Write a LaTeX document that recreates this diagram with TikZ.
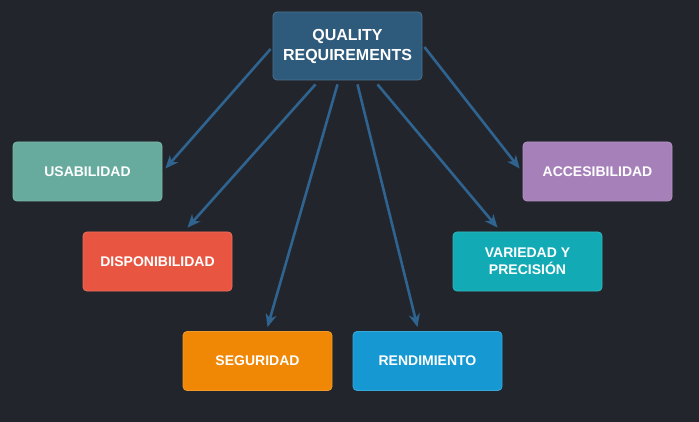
\documentclass[tikz,border=0pt]{standalone}
\usepackage{fontspec}
\setmainfont{Liberation Sans}
\usetikzlibrary{arrows.meta,calc}
\definecolor{bg}{HTML}{22262C}
\definecolor{topc}{HTML}{2E5A7C}
\definecolor{arr}{HTML}{2F6390}
\definecolor{usac}{HTML}{67AB9F}
\definecolor{disc}{HTML}{E85642}
\definecolor{segc}{HTML}{F08705}
\definecolor{renc}{HTML}{1699D3}
\definecolor{varc}{HTML}{12AAB5}
\definecolor{accc}{HTML}{A680B8}
\begin{document}
\begin{tikzpicture}[x=1pt,y=-1pt,
  box/.style={rounded corners=4pt,minimum width=149pt,minimum height=59pt,inner sep=0pt,
    text=white,font=\bfseries\fontsize{14}{17}\selectfont,align=center,draw=#1!85!white,fill=#1,line width=0.8pt},
  conn/.style={draw=arr,line width=2.6pt,-{Stealth[length=13pt,width=11pt,inset=4pt]}}]
\fill[bg] (0,0) rectangle (699,422);
\useasboundingbox (0,0) rectangle (699,422);
\node[box=topc,minimum height=68pt,font=\bfseries\fontsize{16}{20}\selectfont] (top) at (347.5,46) {QUALITY\\REQUIREMENTS};
\node[box=usac] (usa) at (87.5,171.5) {USABILIDAD};
\node[box=disc] (dis) at (157.5,261.5) {DISPONIBILIDAD};
\node[box=segc] (seg) at (257.5,361) {SEGURIDAD};
\node[box=renc] (ren) at (427.5,361) {RENDIMIENTO};
\node[box=varc] (var) at (527.5,261.5) {VARIEDAD Y\\PRECISIÓN};
\node[box=accc] (acc) at (597.5,171.5) {ACCESIBILIDAD};
\draw[conn] ($(top.west)+(-2,3)$) -- ($(usa.east)+(3,-3)$);
\draw[conn] ($(top.south)+(-32,4)$) -- ($(dis.north)+(30,-4)$);
\draw[conn] ($(top.south)+(-10,4)$) -- ($(seg.north)+(10,-4)$);
\draw[conn] ($(top.south)+(10,4)$) -- ($(ren.north)+(-10,-4)$);
\draw[conn] ($(top.south)+(30,4)$) -- ($(var.north)+(-30,-4)$);
\draw[conn] ($(top.east)+(2,1)$) -- ($(acc.west)+(-3,-3)$);
\end{tikzpicture}
\end{document}
